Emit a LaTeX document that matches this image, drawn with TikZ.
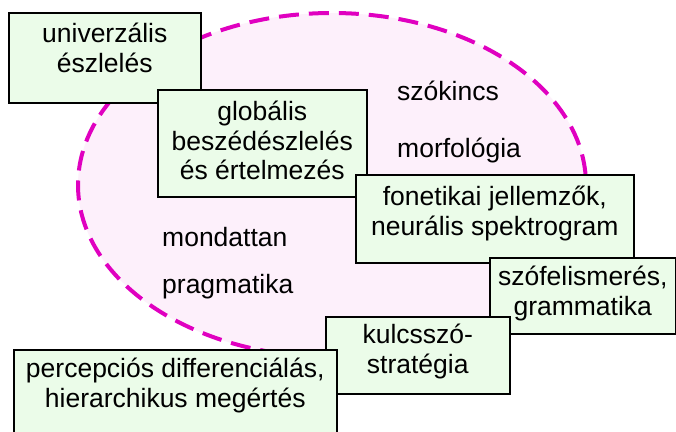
\documentclass[tikz,border=0pt]{standalone}
\usepackage{fontspec}
\setmainfont{Liberation Sans}
\definecolor{boxgreen}{RGB}{235,252,233}
\definecolor{ellpink}{RGB}{253,240,251}
\definecolor{dashmag}{RGB}{224,0,192}
\newcommand{\bxt}[4]{\parbox[t][#2pt][t]{#1pt}{\centering\rule{0pt}{#3pt}#4}}
\begin{document}
\begin{tikzpicture}[x=1pt,y=-1pt,
  every node/.style={font=\fontsize{26.5}{29.5}\selectfont},
  box/.style={draw=black, fill=boxgreen, line width=1.5pt, inner sep=0pt, anchor=north west},
  lbl/.style={anchor=base west, inner sep=0pt}]
\useasboundingbox (0,0) rectangle (676,431);
\fill[white] (0,0) rectangle (676,431);
\draw[dashmag, fill=ellpink, line width=4pt, dash pattern=on 20pt off 10pt] (332,185) ellipse [x radius=254, y radius=172];
\node[lbl] (szo) at (397,100) {szókincs};
\node[lbl] (mor) at (397,157) {morfológia};
\node[lbl] (mon) at (162,246) {mondattan};
\node[lbl] (pra) at (162,293) {pragmatika};
\node[box] (b1) at (8,12) {\bxt{192}{90}{30}{univerzális\\észlelés}};
\node[box] (b2) at (157,89) {\bxt{209}{107}{31}{globális\\beszédészlelés\\és értelmezés}};
\node[box] (b3) at (355,174) {\bxt{278}{88}{31}{fonetikai jellemzők,\\neurális spektrogram}};
\node[box] (b4) at (489,257) {\bxt{186}{76}{28}{szófelismerés,\\grammatika}};
\node[box] (b5) at (325,316) {\bxt{184}{77}{27}{kulcsszó-\\stratégia}};
\node[box] (b6) at (13,349) {\bxt{323}{88}{28}{percepciós differenciálás,\\hierarchikus megértés}};
\end{tikzpicture}
\end{document}
